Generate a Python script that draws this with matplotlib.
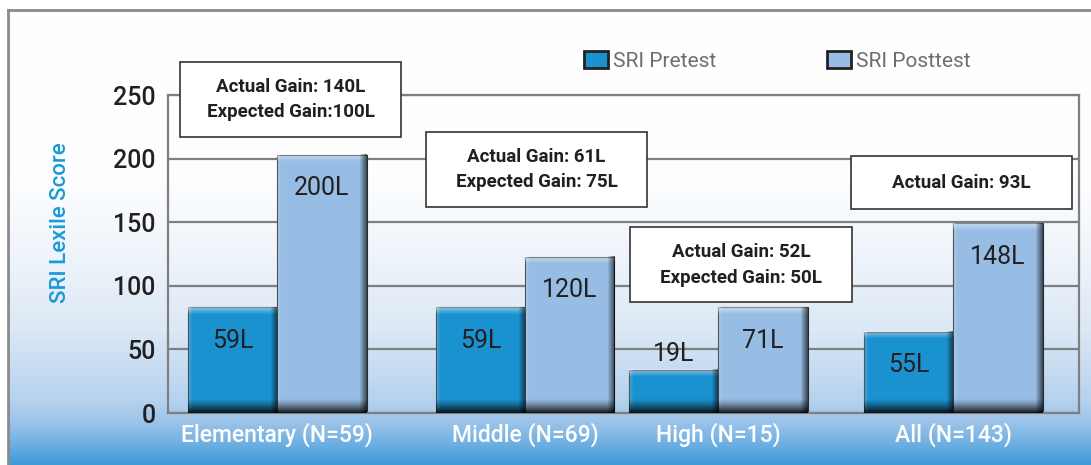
import numpy as np
import matplotlib
matplotlib.use("Agg")
import matplotlib.pyplot as plt
from matplotlib.patches import Rectangle, Patch
from matplotlib.lines import Line2D
from matplotlib.colors import to_rgb

# data
categories = ["Elementary (N=59)", "Middle (N=69)", "High (N=15)", "All (N=143)"]
pretest = [83, 83, 34, 64]
posttest = [203, 123, 83, 149]
pretest_labels = ["59L", "59L", "19L", "55L"]
posttest_labels = ["200L", "120L", "71L", "148L"]
gain_notes = [
    "Actual Gain: 140L\nExpected Gain:100L",
    "Actual Gain: 61L\nExpected Gain: 75L",
    "Actual Gain: 52L\nExpected Gain: 50L",
    "Actual Gain: 93L",
]
yticks = [0, 50, 100, 150, 200, 250]
series_names = ["SRI Pretest", "SRI Posttest"]

# layout
W_PX, H_PX = 1091, 465
group_x = [1.2, 3.92, 6.04, 8.62]
bar_w = 0.98
# note boxes (x0, x1, y0, y1) in data units
note_boxes = [(0.13, 2.56, 217, 276), (2.83, 5.26, 162, 221),
              (5.07, 7.51, 87, 146), (7.50, 9.92, 160, 202)]

PRE_COLOR = "#1b92d0"
POST_COLOR = "#98bde4"
GRID = "#7f7f7f"
TXT = "#231f20"
FONT = ["Liberation Sans Narrow", "Roboto", "DejaVu Sans"]

plt.rcParams["font.family"] = FONT

fig = plt.figure(figsize=(W_PX / 100, H_PX / 100), dpi=100)

# background gradient inside the outer frame
bg = fig.add_axes([8 / W_PX, 0, 1 - 8 / W_PX, (H_PX - 10) / H_PX], zorder=-5)
stops_y = np.array([10, 180, 250, 330, 400, 420, 445, 465])
stops_c = np.array([to_rgb(c) for c in ["#ffffff", "#fdfeff", "#f0f5fb", "#dbe8f5",
                                         "#b5d2ee", "#9fc5ea", "#6aaee2", "#3b9ad8"]])
ys = np.arange(10, H_PX)
grad = np.stack([np.interp(ys, stops_y, stops_c[:, k]) for k in range(3)], axis=1)
bg.imshow(grad[:, None, :], aspect="auto", extent=[0, 1, 0, 1])
bg.axis("off")

# outer frame
fig.add_artist(Line2D([8 / W_PX, 8 / W_PX], [0, 1 - 10 / H_PX], color="#8a8a8a", lw=2))
fig.add_artist(Line2D([8 / W_PX, 1], [1 - 10 / H_PX, 1 - 10 / H_PX], color="#8a8a8a", lw=2))

ax_l, ax_r, ax_b, ax_t = 168, 1079, 413, 95
ax = fig.add_axes([ax_l / W_PX, (H_PX - ax_b) / H_PX,
                   (ax_r - ax_l) / W_PX, (ax_b - ax_t) / H_PX])
ax.patch.set_alpha(0)
ax.set_xlim(0, 10)
ax.set_ylim(0, 250)
px_x = (ax_r - ax_l) / 10
px_y = (ax_b - ax_t) / 250

for s in ax.spines.values():
    s.set_color(GRID)
    s.set_linewidth(1.6)
ax.set_yticks(yticks)
ax.set_yticklabels([str(v) for v in yticks], fontsize=18, color=TXT, fontweight="medium")
ax.tick_params(axis="y", length=0, pad=9)
ax.yaxis.grid(True, color=GRID, linewidth=1.6, zorder=1)
ax.set_axisbelow(True)
ax.set_xticks(group_x)
ax.set_xticklabels(categories, fontsize=16.5, color="white", fontweight="medium")
ax.tick_params(axis="x", length=0, pad=7)

ax.text(-0.118, 0.60, "SRI Lexile Score", transform=ax.transAxes, rotation=90,
        ha="center", va="center", fontsize=16, color="#1a9ad6", fontweight="medium")


def shade(x0, h, w):
    # bevel look: light top, dark bottom and right edge
    wp = max(int(w * px_x), 2)
    hp = max(int(h * px_y), 2)
    t = np.arange(hp)[:, None]
    b = hp - 1 - t
    xx = np.arange(wp)[None, :]
    r = wp - 1 - xx
    aw = np.clip(0.45 * (1 - t / 7), 0, 1) + np.clip(0.2 * (1 - xx / 4), 0, 1)
    aw = np.clip(aw, 0, 0.6) * np.ones((hp, wp))
    ak = 1 - (1 - 0.85 * np.clip(1 - b / 14, 0, 1) ** 1.3) * (1 - 0.6 * np.clip(1 - r / 7, 0, 1))
    ak = ak * np.ones((hp, wp))
    at = 1 - (1 - aw) * (1 - ak)
    col = np.where(at > 0, aw * (1 - ak) / np.maximum(at, 1e-6), 0)
    img = np.dstack([col, col, col, at])
    ax.imshow(img, extent=[x0, x0 + w, 0, h], aspect="auto", zorder=3,
              interpolation="bilinear")


for i in range(len(categories)):
    for vals, labels, color, off in [(pretest, pretest_labels, PRE_COLOR, -1),
                                     (posttest, posttest_labels, POST_COLOR, 0)]:
        x0 = group_x[i] + off * bar_w
        h = vals[i]
        ax.bar(x0, h, width=bar_w, align="edge", color=color, edgecolor="#2a2a2a",
               linewidth=0.8, zorder=2)
        shade(x0, h, bar_w)
        if h * px_y > 50:
            dy = -24
        else:
            dy = 11
        ax.annotate(labels[i], (x0 + bar_w / 2, h), xytext=(0, dy), textcoords="offset points",
                    ha="center", va="center", fontsize=18, color=TXT, zorder=5)

ax.set_xlim(0, 10)
ax.set_ylim(0, 250)

for (x0, x1, y0, y1), note in zip(note_boxes, gain_notes):
    ax.add_patch(Rectangle((x0, y0), x1 - x0, y1 - y0, facecolor="white",
                           edgecolor="#333333", linewidth=1.2, zorder=4, clip_on=False))
    ax.text((x0 + x1) / 2, (y0 + y1) / 2, note, ha="center", va="center", fontsize=13.5,
            fontweight="bold", color=TXT, linespacing=1.55, zorder=5, clip_on=False)

handles = [Patch(facecolor=PRE_COLOR, edgecolor="#222222", linewidth=2),
           Patch(facecolor=POST_COLOR, edgecolor="#222222", linewidth=2)]
leg = fig.legend(handles, series_names, loc="center left", ncol=2,
                 bbox_to_anchor=(584 / W_PX, 1 - 61 / H_PX), frameon=False,
                 fontsize=15, handlelength=1.15, handleheight=0.85,
                 handletextpad=0.25, columnspacing=5.3, borderpad=0, borderaxespad=0)
for t in leg.get_texts():
    t.set_color("#6d6e71")

fig.savefig("out.png", dpi=100)
